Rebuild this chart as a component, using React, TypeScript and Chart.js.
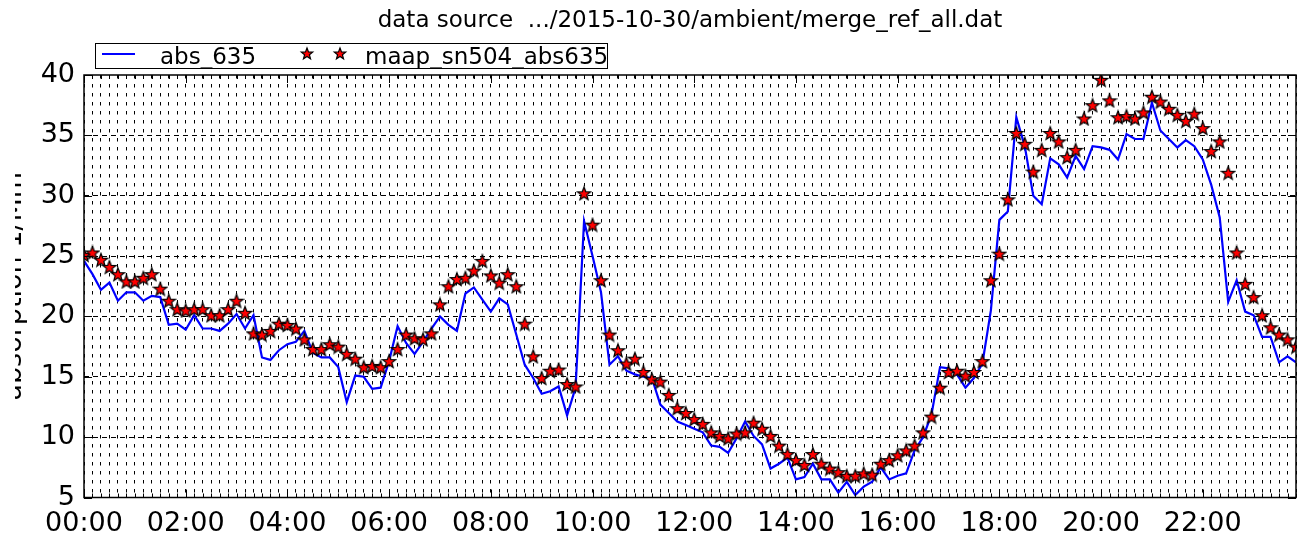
import React, { useEffect, useRef } from 'react';
import { Chart, registerables } from 'chart.js';

Chart.register(...registerables);

// 10-minute time stamps for one day
const times: string[] = Array.from({ length: 144 }, (_, i) =>
  `${String(Math.floor(i / 6)).padStart(2, '0')}:${String((i % 6) * 10).padStart(2, '0')}`
);

const xTickLabels = ['00:00', '02:00', '04:00', '06:00', '08:00', '10:00', '12:00', '14:00', '16:00', '18:00', '20:00', '22:00'];
const yTickValues = [5, 10, 15, 20, 25, 30, 35, 40];

const seriesNames = ['abs_635', 'maap_sn504_abs635'];
const titleText = 'data source  .../2015-10-30/ambient/merge_ref_all.dat';
const yTitleText = 'absorption 1/Mm';

const abs635 = [
  24.6, 23.5, 22.2, 22.8, 21.3, 22.0, 22.0, 21.3, 21.7, 21.6,
  19.3, 19.4, 18.9, 20.1, 19.0, 19.0, 18.8, 19.4, 20.2, 19.0,
  20.1, 16.6, 16.4, 17.2, 17.7, 17.9, 18.8, 17.0, 16.6, 16.6,
  15.8, 12.9, 15.1, 15.0, 14.0, 14.1, 16.3, 19.2, 17.8, 16.9,
  17.9, 19.0, 20.0, 19.3, 18.8, 21.9, 22.4, 21.4, 20.4, 21.5,
  21.0, 18.5, 16.0, 14.9, 13.6, 13.8, 14.2, 11.8, 14.1, 27.9,
  25.0, 22.0, 16.0, 16.7, 15.5, 15.2, 15.0, 14.9, 12.7, 12.0,
  11.3, 11.0, 10.7, 10.4, 9.3, 9.2, 8.7, 9.9, 11.3, 10.1,
  9.4, 7.4, 7.8, 8.3, 6.5, 6.7, 7.8, 6.5, 6.5, 5.4,
  6.3, 5.2, 5.9, 6.3, 7.5, 6.5, 6.8, 7.0, 8.9, 10.0,
  11.9, 15.8, 15.7, 15.2, 14.1, 14.9, 16.1, 20.5, 28.0, 28.7,
  36.5, 34.1, 30.0, 29.3, 33.1, 32.6, 31.5, 33.3, 32.2, 34.1,
  34.0, 33.8, 33.0, 35.1, 34.7, 34.7, 37.7, 35.4, 34.7, 34.0,
  34.6, 34.1, 33.0, 30.9, 28.2, 21.2, 23.0, 20.4, 20.1, 18.3,
  18.3, 16.2, 16.7, 16.2,
];

const maapAbs635 = [
  25.1, 25.3, 24.7, 24.1, 23.5, 22.9, 22.9, 23.2, 23.5, 22.3,
  21.3, 20.6, 20.5, 20.6, 20.6, 20.1, 20.1, 20.6, 21.3, 20.3,
  18.6, 18.5, 18.8, 19.4, 19.3, 19.0, 18.1, 17.3, 17.3, 17.7,
  17.5, 16.9, 16.5, 15.8, 15.9, 15.8, 16.3, 17.3, 18.5, 18.2,
  18.1, 18.6, 21.0, 22.5, 23.1, 23.2, 23.8, 24.6, 23.4, 22.8,
  23.5, 22.5, 19.4, 16.7, 14.9, 15.5, 15.6, 14.4, 14.2, 30.2,
  27.6, 23.0, 18.5, 17.2, 16.1, 16.5, 15.4, 14.8, 14.6, 13.5,
  12.4, 12.0, 11.5, 11.1, 10.4, 10.1, 9.9, 10.3, 10.4, 11.2,
  10.7, 10.1, 9.3, 8.6, 8.1, 7.7, 8.6, 7.8, 7.4, 7.1,
  6.8, 6.8, 7.0, 6.9, 7.8, 8.1, 8.5, 8.9, 9.3, 10.4,
  11.7, 14.1, 15.4, 15.5, 15.1, 15.4, 16.3, 23.0, 25.2, 29.7,
  35.2, 34.3, 32.0, 33.8, 35.2, 34.5, 33.2, 33.8, 36.4, 37.5,
  39.6, 37.9, 36.5, 36.6, 36.4, 36.9, 38.2, 37.8, 37.2, 36.7,
  36.2, 36.8, 35.6, 33.7, 34.5, 31.9, 25.3, 22.7, 21.6, 20.1,
  19.1, 18.5, 18.1, 17.5,
];

const FONT = '"DejaVu Sans", "Liberation Sans", sans-serif';

function drawStarPath(g: CanvasRenderingContext2D, cx: number, cy: number, R: number) {
  const r = R * 0.42;
  g.beginPath();
  for (let k = 0; k < 10; k++) {
    const ang = -Math.PI / 2 + (k * Math.PI) / 5;
    const rad = k % 2 === 0 ? R : r;
    const px = cx + rad * Math.cos(ang);
    const py = cy + rad * Math.sin(ang);
    if (k === 0) g.moveTo(px, py);
    else g.lineTo(px, py);
  }
  g.closePath();
  g.fillStyle = '#ff0000';
  g.fill();
  g.lineWidth = 1.2;
  g.strokeStyle = '#000000';
  g.stroke();
}

function makeStar(size: number): HTMLCanvasElement {
  const c = document.createElement('canvas');
  c.width = size;
  c.height = size;
  const g = c.getContext('2d') as CanvasRenderingContext2D;
  drawStarPath(g, size / 2, size / 2 + 0.7, size / 2 - 1);
  return c;
}

const decorPlugin = {
  id: 'decor',
  afterDraw(chart: any) {
    const { ctx, chartArea: ca, scales } = chart;
    const xs = scales.x;
    const ys = scales.y;
    ctx.save();
    ctx.strokeStyle = '#000';
    ctx.lineWidth = 1;
    // x ticks (inward, top and bottom)
    for (let i = 0; i < times.length; i++) {
      const px = Math.round(xs.getPixelForValue(i)) + 0.5;
      const len = xTickLabels.includes(times[i]) ? 8 : 4;
      ctx.beginPath();
      ctx.moveTo(px, ca.bottom);
      ctx.lineTo(px, ca.bottom - len);
      ctx.moveTo(px, ca.top);
      ctx.lineTo(px, ca.top + len);
      ctx.stroke();
    }
    // y ticks (inward, left and right)
    for (const v of yTickValues) {
      const py = Math.round(ys.getPixelForValue(v)) + 0.5;
      ctx.beginPath();
      ctx.moveTo(ca.left, py);
      ctx.lineTo(ca.left + 8, py);
      ctx.moveTo(ca.right, py);
      ctx.lineTo(ca.right - 8, py);
      ctx.stroke();
    }
    // frame
    ctx.lineWidth = 1.5;
    ctx.strokeRect(ca.left, ca.top, ca.right - ca.left, ca.bottom - ca.top);

    // title
    ctx.fillStyle = '#000';
    ctx.font = `23px ${FONT}`;
    ctx.textAlign = 'center';
    ctx.textBaseline = 'alphabetic';
    ctx.fillText(titleText, (ca.left + ca.right) / 2, 27);

    // legend
    const lx = ca.left + 11;
    const ly = 43;
    ctx.fillStyle = '#fff';
    ctx.fillRect(lx, ly, 512, 25);
    ctx.lineWidth = 1;
    ctx.strokeStyle = '#000';
    ctx.strokeRect(lx + 0.5, ly + 0.5, 512, 25);
    ctx.strokeStyle = '#0000ff';
    ctx.lineWidth = 2;
    ctx.beginPath();
    ctx.moveTo(lx + 7, ly + 11);
    ctx.lineTo(lx + 40, ly + 11);
    ctx.stroke();
    ctx.fillStyle = '#000';
    ctx.textAlign = 'left';
    ctx.font = `23px ${FONT}`;
    ctx.fillText(seriesNames[0], lx + 65, ly + 21);
    drawStarPath(ctx, lx + 212, ly + 11, 6);
    drawStarPath(ctx, lx + 245, ly + 11, 6);
    ctx.fillStyle = '#000';
    ctx.fillText(seriesNames[1], lx + 270, ly + 21);

    // y axis title (clipped at the left like the reference image)
    ctx.save();
    ctx.beginPath();
    ctx.rect(15, 0, 60, chart.height);
    ctx.clip();
    ctx.translate(21, (ca.top + ca.bottom) / 2);
    ctx.rotate(-Math.PI / 2);
    ctx.font = `27px ${FONT}`;
    ctx.textAlign = 'center';
    ctx.textBaseline = 'alphabetic';
    ctx.fillStyle = '#000';
    ctx.fillText(yTitleText, 0, 0);
    ctx.restore();

    ctx.restore();
  },
};

export default function App() {
  const canvasRef = useRef<HTMLCanvasElement | null>(null);

  useEffect(() => {
    const canvas = canvasRef.current;
    if (!canvas) return;
    const star = makeStar(16);
    const chart = new Chart(canvas, {
      type: 'line',
      data: {
        labels: times,
        datasets: [
          {
            label: seriesNames[1],
            data: maapAbs635,
            showLine: false,
            pointStyle: star as any,
            pointRadius: 7,
            borderColor: '#000',
            backgroundColor: '#ff0000',
            order: 0,
            clip: 0,
          } as any,
          {
            label: seriesNames[0],
            data: abs635,
            borderColor: '#0000ff',
            borderWidth: 2.2,
            pointRadius: 0,
            tension: 0,
            fill: false,
            order: 1,
            clip: 0,
          } as any,
        ],
      },
      options: {
        responsive: false,
        animation: false,
        devicePixelRatio: 1,
        layout: { padding: { left: 0, right: 4, top: 75, bottom: 0 } },
        plugins: {
          legend: { display: false },
          title: { display: false },
          tooltip: { enabled: false },
        },
        scales: {
          x: {
            type: 'category',
            offset: false,
            afterFit: (s: any) => {
              s.height = 541 - 497.5;
            },
            grid: {
              color: '#000',
              lineWidth: 1,
              drawTicks: false,
            },
            border: { display: false, dash: [3.5, 5.5] },
            ticks: {
              autoSkip: false,
              maxRotation: 0,
              minRotation: 0,
              padding: 10,
              color: '#000',
              font: { family: FONT, size: 27 },
              callback: (_v: any, idx: number) => (xTickLabels.includes(times[idx]) ? times[idx] : ''),
            },
          },
          y: {
            type: 'linear',
            min: 5,
            max: 40,
            afterFit: (s: any) => {
              s.width = 84;
            },
            grid: {
              color: (c: any) => (c.tick && (c.tick.value === 5 || c.tick.value === 40) ? 'rgba(0,0,0,0)' : '#000'),
              lineWidth: 1,
              drawTicks: false,
            },
            border: { display: false, dash: [5, 4] },
            ticks: {
              stepSize: 5,
              padding: 9,
              color: '#000',
              font: { family: FONT, size: 27 },
            },
          },
        },
      } as any,
      plugins: [decorPlugin],
    });
    return () => chart.destroy();
  }, []);

  return (
    <div style={{ position: 'absolute', left: 0, top: 0, width: 1306, height: 541, background: '#fff' }}>
      <canvas ref={canvasRef} width={1306} height={541} style={{ display: 'block', width: 1306, height: 541 }} />
    </div>
  );
}
